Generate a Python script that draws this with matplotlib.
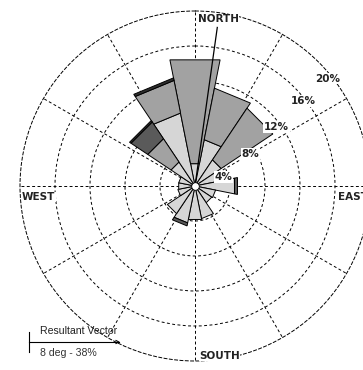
import numpy as np
import matplotlib

matplotlib.use("Agg")
import matplotlib.pyplot as plt

# 16 compass directions, clockwise from north
directions = ["N", "NNE", "NE", "ENE", "E", "ESE", "SE", "SSE",
              "S", "SSW", "SW", "WSW", "W", "WNW", "NW", "NNW"]
# percent frequency per speed class (stacked from the centre outwards)
light = [2.6, 5.4, 3.6, 2.8, 4.6, 2.4, 2.3, 3.8, 3.9, 4.3, 3.8, 2.0, 1.9, 1.9, 3.3, 8.5]
medium = [12.1, 6.0, 7.1, 0, 0, 0, 0, 0, 0, 0, 0, 0, 0, 0, 3.2, 3.8]
dark = [0, 0, 0, 0, 0.35, 0, 0, 0, 0, 0.35, 0, 0, 0, 0, 2.3, 0]
darkest = [0, 0, 0, 0, 0, 0, 0, 0, 0, 0, 0, 0, 0, 0, 0.2, 0.3]

ring_values = [4, 8, 12, 16, 20]
ring_label_angles = [72, 60, 54, 52, 51]  # degrees, compass
ring_label_radius = [3.4, 7.3, 11.5, 15.7, 19.5]

resultant_dir = 8    # deg
resultant_len = 18.3  # drawn length on the % scale
resultant_text = "8 deg - 38%"

colors = ["#d6d6d6", "#a2a2a2", "#5a5a5a", "#2e2e2e"]

fig = plt.figure(figsize=(3.63, 3.70), dpi=100)
ax = fig.add_axes([20 / 363, 9 / 370, 350 / 363, 350 / 370], projection="polar")
ax.set_theta_zero_location("N")
ax.set_theta_direction(-1)
ax.set_axisbelow(True)

theta = np.deg2rad(np.arange(len(directions)) * 22.5)
half = np.deg2rad(22.5) / 2
bottom = np.zeros(len(directions))
for vals, c in zip([light, medium, dark, darkest], colors):
    for i, v in enumerate(vals):
        if v <= 0:
            continue
        t0, t1 = theta[i] - half, theta[i] + half
        b, top = bottom[i], bottom[i] + v
        # straight-edged wedge segment (chord tops, like the original)
        ax.fill([t0, t1, t1, t0], [b, b, top, top], facecolor=c,
                edgecolor="black", linewidth=0.7, zorder=2)
        bottom[i] = top

ax.set_ylim(0, 20)
ax.set_yticks(ring_values[:-1])
ax.set_yticklabels([])
ax.set_xticks(np.deg2rad(np.arange(0, 360, 30)))
ax.set_xticklabels([])
ax.grid(True, color="black", linestyle=(0, (3, 2.5)), linewidth=0.7)
ax.spines["polar"].set_linestyle((0, (3, 2.5)))
ax.spines["polar"].set_linewidth(0.7)

for val, ang, r in zip(ring_values, ring_label_angles, ring_label_radius):
    ax.text(np.deg2rad(ang), r, f"{val}%", fontsize=7.5, fontweight="bold",
            color="#222222", ha="center", va="center", zorder=5,
            bbox=dict(facecolor="white", edgecolor="none", pad=0.5))

# resultant vector
ax.plot([np.deg2rad(resultant_dir)] * 2, [0, resultant_len], color="black",
        linewidth=0.9, zorder=4)
# calm circle in the centre
ax.scatter([0], [0], s=30, facecolor="white", edgecolor="black",
           linewidth=0.6, zorder=6)

lab = dict(fontsize=7.5, fontweight="bold", color="#222222",
           bbox=dict(facecolor="white", edgecolor="none", pad=0.3))
fig.text(198 / 363, 1 - 19 / 370, "NORTH", ha="left", va="center", **lab)
fig.text(22 / 363, 1 - 197 / 370, "WEST", ha="left", va="center", **lab)
fig.text(338 / 363, 1 - 197 / 370, "EAST", ha="left", va="center", **lab)
fig.text(199 / 363, 1 - 356 / 370, "SOUTH", ha="left", va="center", **lab)

# legend for the resultant vector
fig.add_artist(plt.Line2D([29 / 363, 29 / 363], [1 - 332 / 370, 1 - 352 / 370],
                          color="black", linewidth=0.8))
fig.add_artist(plt.Line2D([29 / 363, 119 / 363], [1 - 342 / 370, 1 - 342 / 370],
                          color="black", linewidth=0.8))
fig.add_artist(plt.Line2D([116 / 363, 119 / 363, 116 / 363],
                          [1 - 340.5 / 370, 1 - 342 / 370, 1 - 343.5 / 370],
                          color="black", linewidth=0.8))
fig.text(40 / 363, 1 - 331.5 / 370, "Resultant Vector", fontsize=7.6,
         family="Liberation Sans", color="#222222", ha="left", va="center")
fig.text(40 / 363, 1 - 352.5 / 370, resultant_text, fontsize=7.6,
         family="Liberation Sans", color="#333333", ha="left", va="center")

fig.savefig("out.png", dpi=100)
